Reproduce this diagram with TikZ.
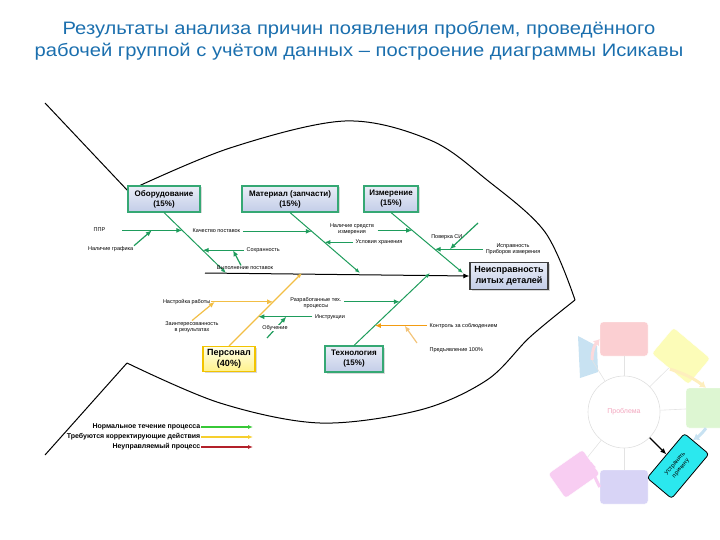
\documentclass[tikz,border=0pt]{standalone}
\usepackage{fontspec}
\setmainfont{Liberation Sans}
\usepackage{xcolor}
\usepackage{tikz}
\usetikzlibrary{arrows.meta,positioning,calc,shadows}

\definecolor{titleblue}{HTML}{1B6FAE}
\definecolor{bonegreen}{HTML}{1E9C5C}
\definecolor{boxfill}{HTML}{C3CDE8}
\definecolor{boxedge}{HTML}{35A874}
\definecolor{staffyel}{HTML}{FFF28A}
\definecolor{staffedge}{HTML}{F2C300}
\definecolor{boneyel}{HTML}{F2BE45}
\definecolor{ctrlorange}{HTML}{F39C12}
\definecolor{lightorange}{HTML}{F3C47A}
\definecolor{leggreen}{HTML}{37C837}
\definecolor{legyellow}{HTML}{F6CF2E}
\definecolor{legred}{HTML}{B3202A}
\definecolor{cycpink}{HTML}{FBCFD2}
\definecolor{cycyellow}{HTML}{FCFCB8}
\definecolor{cycgreen}{HTML}{DDF6D2}
\definecolor{cycpurple}{HTML}{D8D4F6}
\definecolor{cycmag}{HTML}{F8CDF2}
\definecolor{cycblue}{HTML}{C8E2F2}
\definecolor{probtxt}{HTML}{F2A6BE}
\definecolor{fixcyan}{HTML}{2BE8EE}

\begin{document}
\begin{tikzpicture}[x=1pt, y=-1pt,
  cause/.style={rectangle, draw=boxedge, line width=1.1pt, top color=boxfill!35, bottom color=boxfill, drop shadow={shadow xshift=1.5pt, shadow yshift=-1.5pt, opacity=0.3}, font=\fontsize{8}{10}\selectfont\bfseries, align=center, minimum height=26pt, inner sep=1pt},
  effect/.style={cause, draw=black!75, font=\fontsize{9}{11.5}\selectfont\bfseries, minimum width=78pt, minimum height=27pt},
  staff/.style={cause, draw=staffedge, top color=yellow!8, bottom color=staffyel, font=\fontsize{9}{11}\selectfont\bfseries, minimum width=52pt, minimum height=25pt},
  lbl/.style={font=\fontsize{5.5}{6.5}\selectfont, align=center, inner sep=0.5pt},
  legtxt/.style={font=\fontsize{7}{7.5}\selectfont\bfseries, inner sep=0.5pt, anchor=east},
  bone/.style={draw=bonegreen, line width=1pt, -{Latex[length=5pt, width=4pt]}},
  staffbone/.style={bone, draw=boneyel, line width=1.3pt},
  sub/.style={draw=bonegreen, line width=1.2pt, -{Latex[length=6pt, width=5pt]}},
  subyel/.style={sub, draw=boneyel},
  suborange/.style={sub, draw=ctrlorange},
  sublight/.style={sub, draw=lightorange},
  legarr/.style={line width=1.3pt, -{Latex[length=5pt, width=4pt]}},
  outline/.style={draw=black, line width=1pt},
  cyc/.style={rectangle, rounded corners=3pt, draw=white, minimum width=48pt, minimum height=34pt},
  spoke/.style={draw=gray!22, line width=0.6pt},
  cycarr/.style={line width=3pt, -{Latex[length=6pt, width=8pt]}}
]
\useasboundingbox (0,0) rectangle (720,540);

% title
\node[font=\fontsize{18}{22}\selectfont, text=titleblue, align=center, xscale=1.12] (title) at (359,41)
  {Результаты анализа причин появления проблем, проведённого\\рабочей группой с учётом данных -- построение диаграммы Исикавы};

% fish outline
\draw[outline] (45,103) -- (128,191);
\draw[outline] plot[smooth, tension=0.55] coordinates {(128,191) (230,148) (345,121) (430,140) (487,180) (545,232) (575,300)};
\draw[outline] plot[smooth, tension=0.55] coordinates {(575,300) (530,337) (487,380) (420,410) (320,423) (220,403) (127,363)};
\draw[outline] (127,363) -- (45,455);

% head and main causes
\node[effect] (defect) at (509,276) {Неисправность\\литых деталей};
\node[cause, minimum width=72pt] (equip) at (164,199) {Оборудование\\(15\%)};
\node[cause, minimum width=96pt] (mater) at (290,199) {Материал (запчасти)\\(15\%)};
\node[cause, minimum width=54pt] (meas) at (391,199) {Измерение\\(15\%)};
\node[staff] (pers) at (229,359) {Персонал\\(40\%)};
\node[cause, minimum width=58pt] (tech) at (354,359) {Технология\\(15\%)};

\coordinate (tail) at (205,273);
\draw[line width=1pt, -{Latex[length=6pt, width=5pt]}] (tail) -- (defect.west);

% bones
\coordinate (b1) at (226,273);
\coordinate (b2) at (360,273);
\coordinate (b3) at (463,273);
\coordinate (b4) at (302,273);
\coordinate (b5) at (430,273);
\draw[bone] (equip.south) -- (b1);
\draw[bone] (mater.south) -- (b2);
\draw[bone] (meas.south) -- (b3);
\draw[staffbone] (pers.north) -- (b4);
\draw[bone] (tech.north) -- (b5);

\coordinate (e1) at ($(equip.south)!0.295!(b1)$);
\coordinate (e2) at ($(equip.south)!0.623!(b1)$);
\coordinate (m1) at ($(mater.south)!0.311!(b2)$);
\coordinate (m2) at ($(mater.south)!0.492!(b2)$);
\coordinate (s1) at ($(meas.south)!0.295!(b3)$);
\coordinate (s2) at ($(meas.south)!0.607!(b3)$);
\coordinate (p1) at ($(pers.north)!0.605!(b4)$);
\coordinate (p2) at ($(pers.north)!0.401!(b4)$);
\coordinate (t1) at ($(tech.north)!0.603!(b5)$);
\coordinate (t2) at ($(tech.north)!0.274!(b5)$);

% equipment
\node[lbl, anchor=east] (ppr) at (106,230) {ППР};
\draw[sub, shorten <=16pt] (ppr.east |- e1) -- (e1);
\node[lbl, anchor=east] (graf) at (134,249) {Наличие графика};
\draw[sub] (graf.north east) -- ($(ppr.east |- e1)!0.6!(e1)$);

% material
\node[lbl, anchor=west] (kach) at (192,231) {Качество поставок};
\draw[sub, shorten <=2pt] (kach.east |- m1) -- (m1);
\node[lbl, anchor=west] (sohr) at (246,250) {Сохранность};
\draw[sub, shorten <=2pt] (sohr.west |- e2) -- (e2);
\node[lbl] (vyp) at (245,268) {Выполнение поставок};
\draw[sub] ([xshift=-4pt]vyp.north) -- ($(e2)!0.7!(sohr.west |- e2)$);
\node[lbl, anchor=west] (uslov) at (355,242) {Условия хранения};
\draw[sub, shorten <=2pt] (uslov.west |- m2) -- (m2);

% measurement
\node[lbl] (nalsi) at (352,229) {Наличие средств\\измерения};
\draw[sub, shorten <=3pt] (nalsi.east |- s1) -- (s1);
\node[lbl] (isprav) at (513,249) {Исправность\\Приборов измерения};
\draw[sub, shorten <=2pt] (isprav.west |- s2) -- (s2);
\coordinate (pov0) at (478,223);
\draw[sub] (pov0) -- ($(s2)!0.3!(isprav.west |- s2)$);
\node[lbl, anchor=east] (pov) at (463,237) {Поверка СИ};

% staff
\node[lbl, anchor=east] (nastr) at (211,302) {Настройка работы};
\draw[subyel] (nastr.east |- p1) -- (p1);
\node[lbl] (zain) at (192,327) {Заинтересованность\\в результатах};
\draw[subyel] (zain.north) -- ($(nastr.east |- p1)!0.06!(p1)$);
\node[lbl] (instr) at (330,317) {Инструкции};
\draw[sub, shorten <=2pt] (instr.west |- p2) -- (p2);
\coordinate (ob0) at (267,338);
\draw[sub] (ob0) -- ($(p2)!0.5!(instr.west |- p2)$);
\node[lbl, fill=white] (obuch) at (275,328) {Обучение};

% technology
\node[lbl] (razr) at (316,303) {Разработанные тех.\\процессы};
\draw[sub, shorten <=2pt] (razr.east |- t1) -- (t1);
\node[lbl, anchor=west] (ctrl) at (429,326) {Контроль за соблюдением};
\draw[suborange, shorten <=2pt] (ctrl.west |- t2) -- (t2);
\node[lbl, anchor=west] (pred) at (429,350) {Предъявление 100\%};
\coordinate (pred0) at (417,343);
\draw[sublight] (pred0) -- ($(t2)!0.55!(ctrl.west |- t2)$);

% legend
\node[legtxt] (leg1) at (201,427) {Нормальное течение процесса};
\node[legtxt] (leg2) at (201,437) {Требуются корректирующие действия};
\node[legtxt] (leg3) at (201,447) {Неуправляемый процесс};
\coordinate (leg1e) at (253,427);
\coordinate (leg2e) at (253,437);
\coordinate (leg3e) at (253,447);
\draw[legarr, draw=leggreen] (leg1.east) -- (leg1e);
\draw[legarr, draw=legyellow] (leg2.east) -- (leg2e);
\draw[legarr, draw=legred] (leg3.east) -- (leg3e);

% cycle (faded)
\node[circle, draw=gray!25, line width=0.6pt, minimum size=72pt, font=\fontsize{7}{8}\selectfont, text=probtxt] (prob) at (624,412) {Проблема};
\node[cyc, fill=cycpink] (cA) at (624,339) {};
\node[cyc, fill=cycyellow, rotate=-40] (cB) at (681,356) {};
\node[cyc, fill=cycgreen, minimum width=40pt, minimum height=40pt] (cC) at (706,408) {};
\node[cyc, fill=cycpurple] (cE) at (624,487) {};
\node[cyc, fill=cycmag, rotate=35, minimum width=42pt, minimum height=30pt] (cF) at (574,474) {};
\fill[cycblue] (578,336) -- (597,346) -- (598,372) -- (580,378) -- cycle;
\coordinate (cG) at (592,360);
\draw[spoke] (prob) -- (cA);
\draw[spoke] (prob) -- (cB);
\draw[spoke] (prob) -- (cC);
\draw[spoke] (prob) -- (cE);
\draw[spoke] (prob) -- (cF);
\draw[spoke] (prob) -- (cG);
\draw[cycarr, draw=cycpink!80] (cG) to[bend left=20] (cA.west);
\draw[cycarr, draw=cycyellow!80!orange!60] (cB.south) to[bend left=10] (cC.north);
\draw[cycarr, draw=cycblue] (cC.south) to[bend left=10] (693,440);
\draw[cycarr, draw=cycmag] (cE.west) to[bend left=10] (cF.east);
\node[cyc, fill=fixcyan, draw=black, line width=0.8pt, rotate=50, minimum width=58pt, minimum height=32pt, font=\fontsize{6}{7.5}\selectfont, align=center] (fix) at (678,466) {Устранить\\причину};
\draw[line width=1.1pt, -{Latex[length=6pt, width=5pt]}] (prob.-45) -- (fix);
\end{tikzpicture}
\end{document}
